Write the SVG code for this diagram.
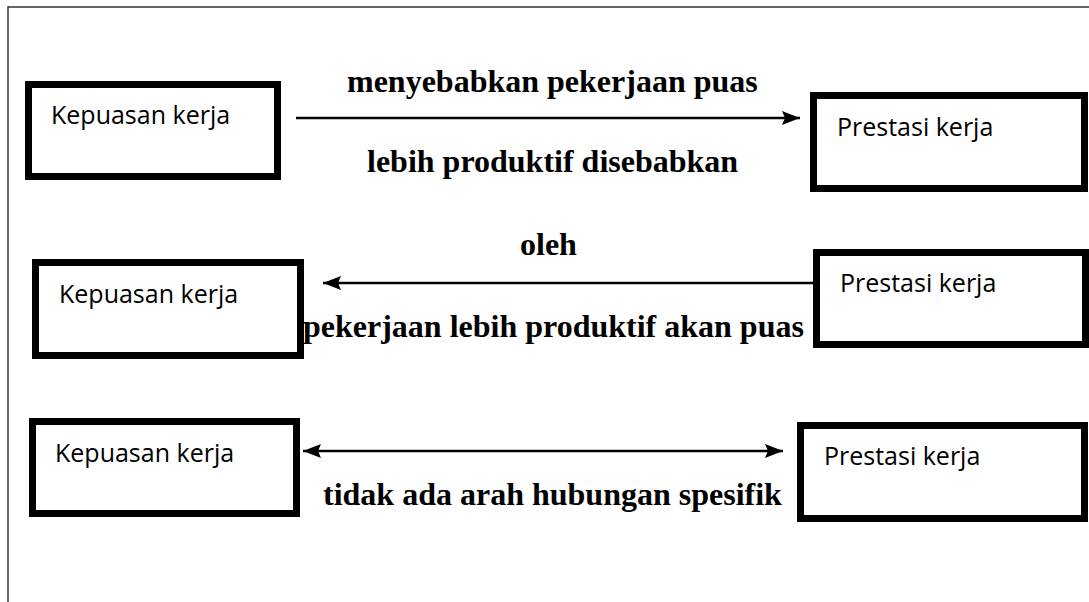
<svg xmlns="http://www.w3.org/2000/svg" width="1089" height="602" viewBox="0 0 1089 602">
  <style>
    .box { fill: #ffffff; stroke: #000000; stroke-width: 7; }
    .node-label { font-family: "Open Sans", "Noto Sans", sans-serif; font-size: 25px; fill: #000000; }
    .edge-label { font-family: "Liberation Serif", "Times New Roman", serif; font-size: 32px; font-weight: bold; fill: #000000; }
    .edge { stroke: #000000; stroke-width: 2.4; fill: none; }
    .frame { stroke: #333333; stroke-width: 1.5; fill: none; }
  </style>
  <defs>
    <marker id="arrow-end" markerUnits="userSpaceOnUse" markerWidth="20" markerHeight="16" refX="18" refY="7" orient="auto">
      <path d="M0,0 L18,7 L0,14 L3,7 z" fill="#000000"/>
    </marker>
    <marker id="arrow-start" markerUnits="userSpaceOnUse" markerWidth="20" markerHeight="16" refX="0" refY="7" orient="auto">
      <path d="M18,0 L0,7 L18,14 L15,7 z" fill="#000000"/>
    </marker>
  </defs>

  <rect width="1089" height="602" fill="#ffffff"/>
  <!-- page frame: top and left rules -->
  <path class="frame" d="M8,602 L8,7 L1089,7"/>

  <!-- row 1 -->
  <g id="kepuasan-1">
    <rect class="box" x="28.5" y="84.5" width="249" height="92"/>
    <text class="node-label" x="51" y="124">Kepuasan kerja</text>
  </g>
  <g id="prestasi-1">
    <rect class="box" x="813.5" y="95.5" width="271" height="93"/>
    <text class="node-label" x="837" y="136">Prestasi kerja</text>
  </g>

  <!-- row 2 -->
  <g id="kepuasan-2">
    <rect class="box" x="35.5" y="262.5" width="265" height="93"/>
    <text class="node-label" x="59" y="303">Kepuasan kerja</text>
  </g>
  <g id="prestasi-2">
    <rect class="box" x="816.5" y="252.5" width="269" height="92"/>
    <text class="node-label" x="840" y="292">Prestasi kerja</text>
  </g>

  <!-- row 3 -->
  <g id="kepuasan-3">
    <rect class="box" x="32.5" y="421.5" width="264" height="92"/>
    <text class="node-label" x="55" y="462">Kepuasan kerja</text>
  </g>
  <g id="prestasi-3">
    <rect class="box" x="800.5" y="425.5" width="284" height="93"/>
    <text class="node-label" x="824" y="465">Prestasi kerja</text>
  </g>

  <g id="connectors">
    <line class="edge" x1="296" y1="118" x2="800" y2="118" marker-end="url(#arrow-end)"/>
    <line class="edge" x1="813" y1="283" x2="323" y2="283" marker-end="url(#arrow-end)"/>
    <line class="edge" x1="303" y1="451" x2="783" y2="451" marker-start="url(#arrow-start)" marker-end="url(#arrow-end)"/>
  </g>

  <g id="connector-labels">
    <text class="edge-label" x="347" y="92">menyebabkan pekerjaan puas</text>
    <text class="edge-label" x="367" y="172">lebih produktif disebabkan</text>
    <text class="edge-label" x="520" y="255">oleh</text>
    <text class="edge-label" x="303" y="337">pekerjaan lebih produktif akan puas</text>
    <text class="edge-label" x="323" y="505">tidak ada arah hubungan spesifik</text>
  </g>
</svg>
